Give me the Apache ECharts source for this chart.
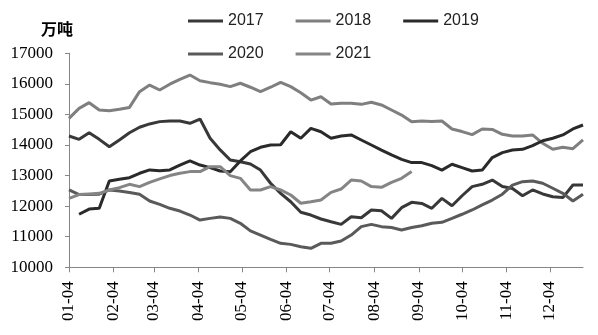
<!DOCTYPE html>
<html>
<head>
<meta charset="utf-8">
<script src="https://cdn.jsdelivr.net/npm/echarts@6/dist/echarts.min.js"></script>
<style>html,body{margin:0;padding:0;background:#fff}#c{width:598px;height:335px}</style>
</head>
<body>
<div id="c"></div>
<script>
// weekly data, first week 2021-01-04
const startDay = [2021, 0, 4];
const weekCount = 52;
const tickLabels = ['01-04','02-04','03-04','04-04','05-04','06-04','07-04','08-04','09-04','10-04','11-04','12-04'];
const seriesNames = ['2017','2018','2019','2020','2021'];

const s2017 = [14295,14185,14400,14185,13945,14165,14400,14580,14690,14765,14785,14785,14710,14850,14220,13840,13510,13450,13380,13180,12750,12420,12145,11800,11710,11580,
  11490,11405,11655,11620,11875,11850,11600,11950,12125,12090,11930,12255,12015,12340,12640,12715,12855,12640,12580,12340,12530,12400,12310,12280,12690,12690];
const s2018 = [14870,15200,15385,15145,15120,15170,15230,15745,15960,15800,15990,16150,16290,16100,16040,15985,15910,16020,15890,15745,15890,16050,15910,15710,15470,15580,
  15340,15365,15365,15330,15400,15310,15145,14980,14760,14785,14770,14785,14525,14440,14340,14525,14510,14350,14295,14295,14330,14055,13860,13925,13880,14165];
const s2019 = [null,11735,11905,11930,12825,12880,12930,13075,13185,13160,13185,13345,13480,13345,13260,13150,13125,13480,13780,13925,14000,14010,14435,14220,14545,14435,
  14220,14295,14330,14165,14000,13835,13675,13530,13425,13425,13325,13180,13370,13260,13150,13180,13590,13750,13835,13860,13980,14140,14220,14330,14525,14655];
const s2020 = [12530,12380,12380,12390,12530,12495,12450,12390,12170,12060,11930,11840,11710,11545,11600,11645,11600,11440,11190,11055,10915,10785,10750,10675,10620,10785,
  10785,10860,11055,11330,11405,11330,11300,11220,11300,11360,11440,11470,11600,11735,11875,12040,12200,12390,12690,12800,12825,12750,12585,12420,12170,12390];
const s2021 = [12255,12380,12400,12420,12530,12605,12715,12640,12780,12890,13000,13075,13130,13130,13290,13290,13000,12910,12530,12530,12640,12530,12365,12095,12145,12200,
  12450,12560,12855,12825,12640,12615,12780,12910,13130];

const DAY = 86400000;
const t0 = Date.UTC(startDay[0], startDay[1], startDay[2]);
// x position = days since the first week
const weekDays = Array.from({length: weekCount}, (_, i) => i * 7);
const tickValues = tickLabels.map(s => Math.round((Date.UTC(2021, parseInt(s.slice(0,2),10) - 1, parseInt(s.slice(3),10)) - t0) / DAY));
const labelFor = {};
tickValues.forEach((v, i) => { labelFor[v] = tickLabels[i]; });

const colors = ['#383838', '#7f7f7f', '#2a2a2a', '#5a5a5a', '#858585'];
const allData = [s2017, s2018, s2019, s2020, s2021];
const SERIF = '"Liberation Serif", "DejaVu Serif", serif';

const chart = echarts.init(document.getElementById('c'));
const legendBase = {
  left: 183, itemWidth: 35, itemHeight: 3, itemGap: 32, icon: 'rect',
  textStyle: {fontFamily: '"Liberation Sans", Arial, sans-serif', fontSize: 16, color: '#222'}
};
chart.setOption({
  animation: false,
  backgroundColor: '#fff',
  textStyle: {fontFamily: SERIF},
  graphic: [{type: 'text', left: 41, top: 21, style: {text: '万吨', font: 'bold 16px "Noto Sans CJK SC"', fill: '#000'}}],
  legend: [
    Object.assign({}, legendBase, {data: seriesNames.slice(0, 3), top: 8}),
    Object.assign({}, legendBase, {data: seriesNames.slice(3), top: 41})
  ],
  grid: {left: 69, right: 15, top: 53.3, bottom: 67.7},
  xAxis: {
    type: 'value',
    min: 0,
    max: weekDays[weekCount - 1],
    axisLine: {lineStyle: {color: '#868686', width: 1}},
    axisTick: {show: true, customValues: tickValues, length: 5, lineStyle: {color: '#868686'}},
    axisLabel: {
      customValues: tickValues, rotate: 90, margin: 14, hideOverlap: false,
      formatter: v => labelFor[v] || '',
      fontFamily: SERIF, fontSize: 17, color: '#000'
    },
    splitLine: {show: false}
  },
  yAxis: {
    type: 'value', min: 10000, max: 17000, interval: 1000,
    axisLine: {show: true, lineStyle: {color: '#868686', width: 1}},
    axisTick: {show: true, length: 4, lineStyle: {color: '#868686'}},
    axisLabel: {margin: 16, fontFamily: SERIF, fontSize: 17, color: '#000', formatter: v => String(v)},
    splitLine: {show: false}
  },
  series: seriesNames.map((name, k) => ({
    name: name,
    type: 'line',
    data: weekDays.map((d, i) => [d, allData[k][i] === undefined ? null : allData[k][i]]),
    showSymbol: false,
    symbol: 'none',
    connectNulls: false,
    color: colors[k],
    lineStyle: {width: 3, color: colors[k]}
  }))
});
</script>
</body>
</html>
